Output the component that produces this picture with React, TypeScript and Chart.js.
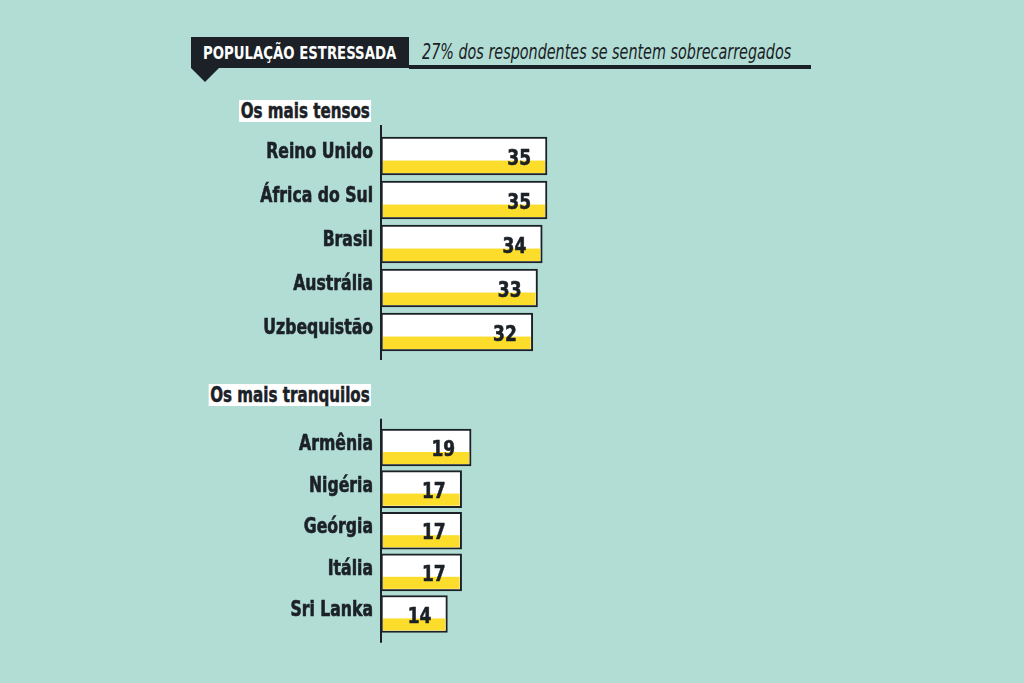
import React, { useEffect, useRef } from "react";
import { Chart, registerables } from "chart.js";

Chart.register(...registerables);

// ---------- data ----------
const tenseCountries = ["Reino Unido", "África do Sul", "Brasil", "Austrália", "Uzbequistão"];
const tenseValues = [35, 35, 34, 33, 32];
const calmCountries = ["Armênia", "Nigéria", "Geórgia", "Itália", "Sri Lanka"];
const calmValues = [19, 17, 17, 17, 14];
const titleText = "POPULAÇÃO ESTRESSADA";
const subtitleText = "27% dos respondentes se sentem sobrecarregados";
const groupTitles = ["Os mais tensos", "Os mais tranquilos"];
const xMax = 40;

// ---------- styles ----------
const BG = "#b1ddd4";
const DARK = "#1b2126";
const YELLOW = "#fddd2c";
const FONT = '"Liberation Sans Narrow", "DejaVu Sans Condensed", "Roboto", sans-serif';

function squeezedText(ctx: any, text: string, x: number, y: number, scale: number) {
  ctx.save();
  ctx.translate(x, y);
  ctx.scale(scale, 1);
  ctx.fillText(text, 0, 0);
  ctx.lineWidth = 0.6;
  ctx.strokeStyle = ctx.fillStyle;
  ctx.strokeText(text, 0, 0);
  ctx.restore();
}

const decorPlugin = {
  id: "barDecor",
  afterDatasetsDraw(chart: any, _args: any, opts: any) {
    const ctx = chart.ctx;
    const area = chart.chartArea;
    const meta = chart.getDatasetMeta(0);
    const ds = chart.data.datasets[0];
    const labels = chart.data.labels;
    ctx.save();
    // axis line
    ctx.strokeStyle = DARK;
    ctx.lineWidth = 2;
    ctx.beginPath();
    ctx.moveTo(area.left, area.top - opts.axisTop);
    ctx.lineTo(area.left, area.bottom + opts.axisBottom);
    ctx.stroke();
    const bw = 2;
    meta.data.forEach((bar: any, i: number) => {
      const { x, y, base, height } = bar.getProps(["x", "y", "base", "height"], true);
      const top = y - height / 2;
      const bottom = y + height / 2;
      const yTop = top + height * 0.62;
      ctx.fillStyle = YELLOW;
      ctx.fillRect(base + bw, yTop, x - base - 2 * bw, bottom - bw - yTop);
      ctx.fillStyle = DARK;
      ctx.textAlign = "right";
      ctx.textBaseline = "middle";
      // value label
      ctx.font = `bold 22px ${FONT}`;
      squeezedText(ctx, String(ds.data[i]), x - 16, y + 3, 0.86);
      // category label
      ctx.font = `bold 21px ${FONT}`;
      squeezedText(ctx, String(labels[i]), area.left - 8, y - 3, 0.83);
    });
    ctx.restore();
  },
};

type BarProps = {
  labels: string[];
  values: number[];
  top: number;
  height: number;
  padTop: number;
  padBottom: number;
  thickness: number;
  axisTop: number;
  axisBottom: number;
};

function BarGroup(p: BarProps) {
  const ref = useRef<HTMLCanvasElement>(null);
  useEffect(() => {
    if (!ref.current) return;
    const chart = new Chart(ref.current, {
      type: "bar",
      data: {
        labels: p.labels,
        datasets: [
          {
            data: p.values,
            backgroundColor: "#ffffff",
            borderColor: DARK,
            borderWidth: 2,
            borderSkipped: false,
            barThickness: p.thickness,
          },
        ],
      },
      options: {
        indexAxis: "y",
        responsive: false,
        animation: false,
        layout: {
          padding: { left: 381, right: 1024 - 570.7, top: p.padTop, bottom: p.padBottom },
        },
        scales: {
          x: { display: false, min: 0, max: xMax },
          y: { display: false },
        },
        plugins: {
          legend: { display: false },
          tooltip: { enabled: false },
          barDecor: { axisTop: p.axisTop, axisBottom: p.axisBottom },
        } as any,
      },
      plugins: [decorPlugin],
    });
    return () => chart.destroy();
  }, []);
  return (
    <canvas
      ref={ref}
      width={1024}
      height={p.height}
      style={{ position: "absolute", left: 0, top: p.top, width: 1024, height: p.height }}
    />
  );
}

const groupTitleStyle = (top: number): React.CSSProperties => ({
  position: "absolute",
  right: 1024 - 371,
  top,
  height: 22,
  lineHeight: "22px",
  background: "#fff",
  padding: "0 2px",
  fontWeight: "bold",
  fontSize: 21,
  color: DARK,
  whiteSpace: "nowrap",
  transform: "scaleX(0.8)",
  transformOrigin: "right center",
  WebkitTextStroke: `0.5px ${DARK}`,
});

export default function App() {
  return (
    <div
      style={{
        position: "absolute",
        left: 0,
        top: 0,
        width: 1024,
        height: 683,
        background: BG,
        overflow: "hidden",
        fontFamily: FONT,
      }}
    >
      {/* header box */}
      <div
        style={{
          position: "absolute",
          left: 191,
          top: 37,
          width: 218,
          height: 31,
          background: DARK,
        }}
      />
      <div
        style={{
          position: "absolute",
          left: 203,
          top: 37,
          height: 31,
          color: "#fff",
          fontWeight: "bold",
          fontSize: 18,
          lineHeight: "31px",
          whiteSpace: "nowrap",
          transform: "scaleX(0.82)",
          transformOrigin: "left center",
        }}
      >
        {titleText}
      </div>
      <div
        style={{
          position: "absolute",
          left: 191,
          top: 68,
          width: 0,
          height: 0,
          borderLeft: "14px solid transparent",
          borderRight: "14px solid transparent",
          borderTop: `14px solid ${DARK}`,
        }}
      />
      <div style={{ position: "absolute", left: 409, top: 65, width: 402, height: 4, background: DARK }} />
      <div
        style={{
          position: "absolute",
          left: 422,
          top: 39,
          fontStyle: "italic",
          fontSize: 21,
          lineHeight: "26px",
          color: DARK,
          whiteSpace: "nowrap",
          transform: "scaleX(0.76)",
          transformOrigin: "left center",
        }}
      >
        {subtitleText}
      </div>

      {/* group titles */}
      <div style={groupTitleStyle(100)}>{groupTitles[0]}</div>
      <div style={groupTitleStyle(384)}>{groupTitles[1]}</div>

      <BarGroup
        labels={tenseCountries}
        values={tenseValues}
        top={0}
        height={370}
        padTop={134}
        padBottom={16}
        thickness={38}
        axisTop={9}
        axisBottom={6}
      />
      <BarGroup
        labels={calmCountries}
        values={calmValues}
        top={370}
        height={313}
        padTop={56.7}
        padBottom={48.2}
        thickness={37}
        axisTop={8}
        axisBottom={8}
      />
    </div>
  );
}
